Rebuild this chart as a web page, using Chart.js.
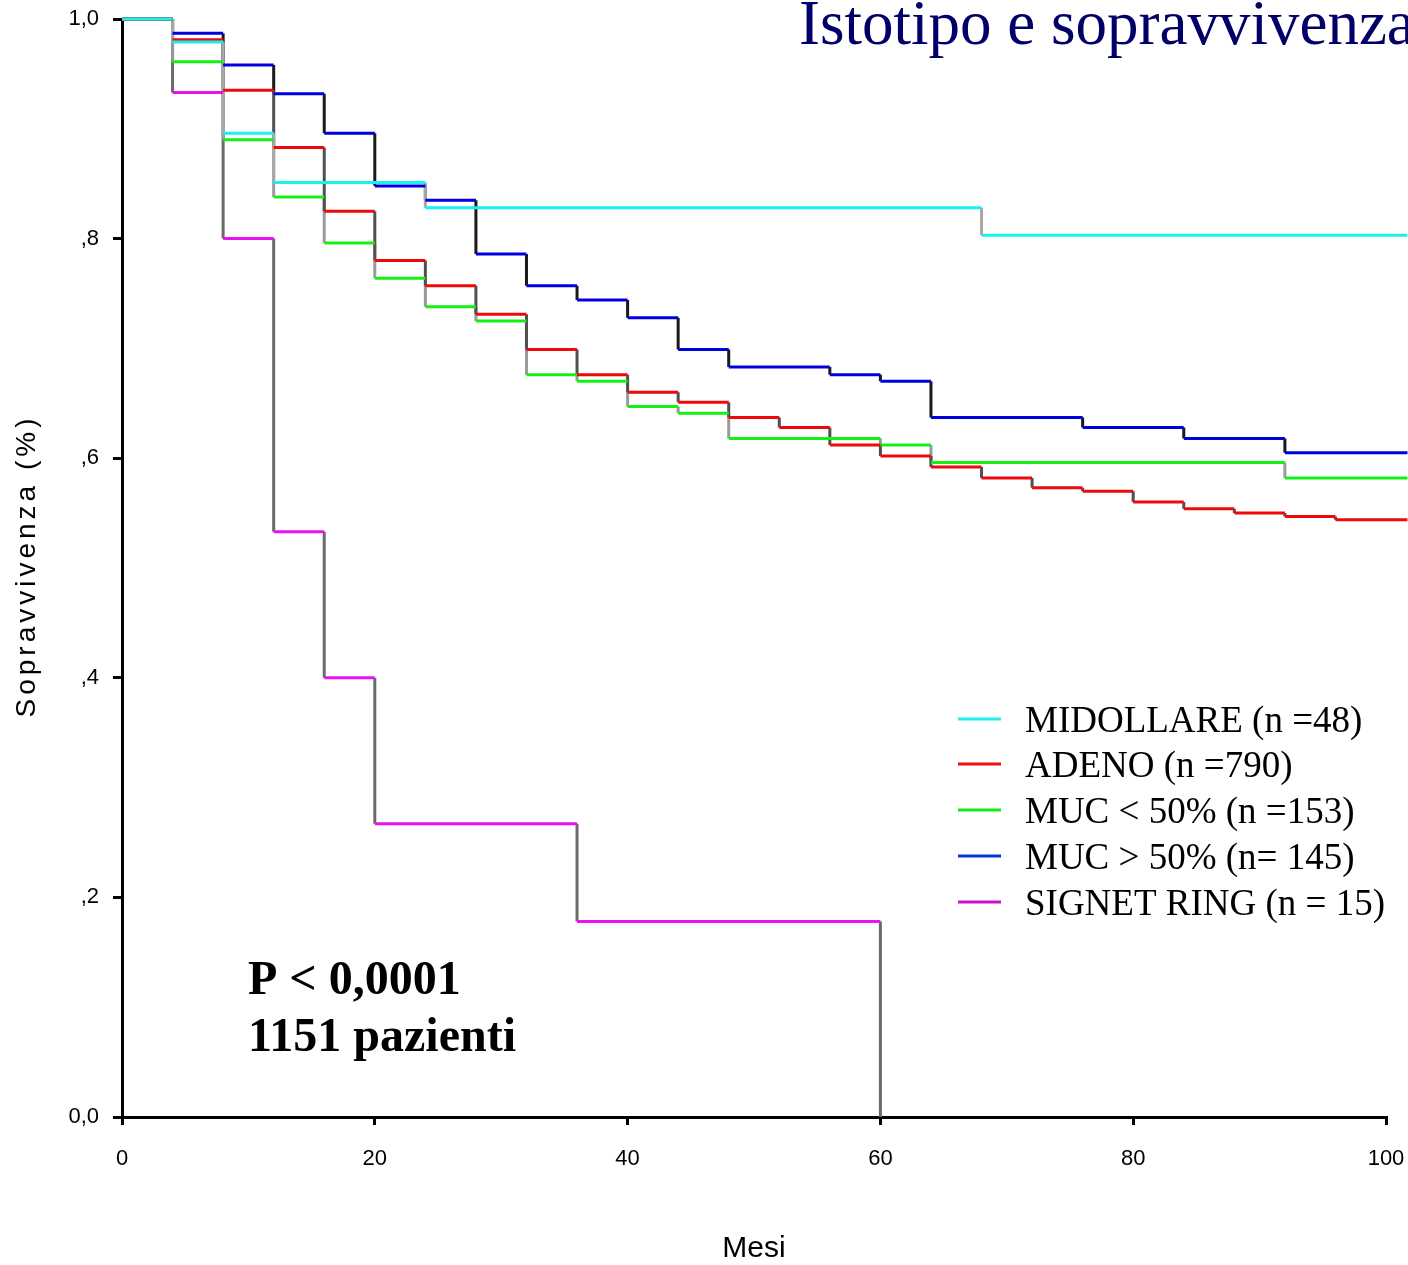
<!DOCTYPE html>
<html>
<head>
<meta charset="utf-8">
<script src="https://cdn.jsdelivr.net/npm/chart.js@4/dist/chart.umd.min.js"></script>
<style>
  html, body { margin: 0; padding: 0; background: #fff; overflow: hidden; }
  #wrap { position: relative; width: 1408px; height: 1265px; }
</style>
</head>
<body>
<div id="wrap"><canvas id="c" width="1408" height="1265"></canvas></div>
<script>
// ---- Data ----
const MONTHS = [0,4,8,12,16,20,24,28,32,36,40,44,48,52,56,60,64,68,72,76,80,84,88,92,96];
const SERIES_NAMES = ['MIDOLLARE (n =48)', 'ADENO (n =790)', 'MUC < 50% (n =153)', 'MUC > 50% (n= 145)', 'SIGNET RING (n = 15)'];
const midollare = [1.0,0.979,0.896,0.851,0.851,0.851,0.828,0.828,0.828,0.828,0.828,0.828,0.828,0.828,0.828,0.828,0.828,0.803,0.803,0.803,0.803,0.803,0.803,0.803,0.803];
const adeno     = [1.0,0.981,0.935,0.883,0.825,0.780,0.757,0.731,0.699,0.676,0.660,0.651,0.637,0.628,0.612,0.602,0.592,0.582,0.573,0.570,0.560,0.554,0.550,0.547,0.544];
const mucLow    = [1.0,0.961,0.890,0.838,0.796,0.764,0.738,0.725,0.676,0.670,0.647,0.641,0.618,0.618,0.618,0.612,0.596,0.596,0.596,0.596,0.596,0.596,0.596,0.582,0.582];
const mucHigh   = [1.0,0.987,0.958,0.932,0.896,0.848,0.835,0.786,0.757,0.744,0.728,0.699,0.683,0.683,0.676,0.670,0.637,0.637,0.637,0.628,0.628,0.618,0.618,0.605,0.605];
const signet    = [1.0,0.933,0.800,0.533,0.400,0.267,0.267,0.267,0.267,0.178,0.178,0.178,0.178,0.178,0.178,0.0];
const LAST_FOLLOW_UP = [101.7, 101.7, 101.7, 101.7, 60];
const X_TICKS = [0,20,40,60,80,100];
const Y_TICK_LABELS = {0:'0,0', 0.2:',2', 0.4:',4', 0.6:',6', 0.8:',8', 1:'1,0'};

// ---- Styles ----
const LINE_COLORS  = ['#18f0f0', '#ee0a0a', '#14f014', '#0000dd', '#ee10ee'];
const RISER_COLORS = ['#a8a8a8', '#505050', '#9a9a9a', '#1a1a1a', '#6a6a6a'];
const LEGEND_COLORS = ['#22f0f0', '#ee1111', '#11ee11', '#0a35cc', '#cc11cc'];
const ALL = [midollare, adeno, mucLow, mucHigh, signet];

function horizontals(vals, endX) {
  const pts = [];
  const n = vals.length;
  for (let i = 0; i < n; i++) {
    const isLast = i === n - 1;
    if (isLast && vals[i] === 0) break; // curve ends with final drop to zero
    const x0 = MONTHS[i];
    const x1 = isLast ? endX : MONTHS[i + 1];
    pts.push({x: x0, y: vals[i]}, {x: x1, y: vals[i]}, {x: x1, y: null});
  }
  return pts;
}
function risers(vals) {
  const pts = [];
  for (let i = 0; i < vals.length - 1; i++) {
    const x = MONTHS[i + 1];
    if (vals[i] === vals[i + 1]) continue;
    pts.push({x: x, y: vals[i]}, {x: x, y: vals[i + 1]}, {x: x, y: null});
  }
  return pts;
}

const datasets = [];
ALL.forEach((vals, k) => {
  datasets.push({
    label: SERIES_NAMES[k],
    data: horizontals(vals, LAST_FOLLOW_UP[k]),
    borderColor: LINE_COLORS[k], borderWidth: 3, pointRadius: 0,
    spanGaps: false, tension: 0, clip: false, order: 0, borderCapStyle: 'butt'
  });
});
ALL.forEach((vals, k) => {
  datasets.push({
    label: SERIES_NAMES[k] + ' steps',
    data: risers(vals),
    borderColor: RISER_COLORS[k], borderWidth: 3, pointRadius: 0,
    spanGaps: false, tension: 0, clip: false, order: 1, borderCapStyle: 'butt'
  });
});

const textPlugin = {
  id: 'texts',
  afterDraw(chart) {
    const ctx = chart.ctx;
    ctx.save();
    // Title (cut by right edge as in the reference)
    ctx.fillStyle = '#000068';
    ctx.font = '63px "Liberation Serif"';
    ctx.textAlign = 'left';
    ctx.textBaseline = 'alphabetic';
    ctx.fillText('Istotipo e sopravvivenza', 799, 44);

    // P value text
    ctx.fillStyle = '#000';
    ctx.font = 'bold 48px "Liberation Serif"';
    ctx.fillText('P < 0,0001', 248, 994);
    ctx.fillText('1151 pazienti', 248, 1051);

    // Legend
    const ys = [719, 764, 810, 856, 902];
    ctx.font = '37px "Liberation Serif"';
    SERIES_NAMES.forEach((name, i) => {
      ctx.strokeStyle = LEGEND_COLORS[i];
      ctx.lineWidth = 3;
      ctx.beginPath();
      ctx.moveTo(958, ys[i]);
      ctx.lineTo(1001, ys[i]);
      ctx.stroke();
      ctx.fillStyle = '#000';
      ctx.fillText(name, 1025, ys[i] + 13);
    });

    // Axis titles
    ctx.font = '30px "Liberation Sans"';
    ctx.textAlign = 'center';
    ctx.textBaseline = 'middle';
    ctx.fillText('Mesi', 754, 1249);

    ctx.translate(27, 566);
    ctx.rotate(-Math.PI / 2);
    ctx.font = '28px "Liberation Sans"';
    try { ctx.letterSpacing = '4px'; } catch (e) {}
    ctx.fillText('Sopravvivenza (%)', 0, 0);
    ctx.restore();
  }
};

new Chart(document.getElementById('c'), {
  type: 'line',
  data: { datasets },
  options: {
    responsive: false,
    animation: false,
    devicePixelRatio: 1,
    layout: { padding: { top: 19, right: 22, left: 0, bottom: 0 } },
    plugins: { legend: { display: false }, tooltip: { enabled: false }, title: { display: false } },
    scales: {
      x: {
        type: 'linear', min: 0, max: 100,
        afterFit(scale) { scale.height = 148; scale.paddingLeft = 0; scale.paddingRight = 0; },
        afterBuildTicks(scale) { scale.ticks = X_TICKS.map(v => ({value: v})); },
        grid: { drawOnChartArea: false, drawTicks: true, tickLength: 8, color: '#000', lineWidth: 3 },
        border: { display: true, color: '#000', width: 3 },
        ticks: { color: '#000', font: { family: 'Liberation Sans', size: 22 }, padding: 21, maxRotation: 0, autoSkip: false },
      },
      y: {
        type: 'linear', min: 0, max: 1,
        afterFit(scale) { scale.width = 122; scale.paddingTop = 0; scale.paddingBottom = 0; },
        ticks: {
          stepSize: 0.2, color: '#000', font: { family: 'Liberation Sans', size: 22 }, padding: 14,
          callback: (v) => { const key = Math.round(v * 10) / 10; return Y_TICK_LABELS[key] !== undefined ? Y_TICK_LABELS[key] : ''; }
        },
        grid: { drawOnChartArea: false, drawTicks: true, tickLength: 9, color: '#000', lineWidth: 3 },
        border: { display: true, color: '#000', width: 3 }
      }
    }
  },
  plugins: [textPlugin]
});
</script>
</body>
</html>
